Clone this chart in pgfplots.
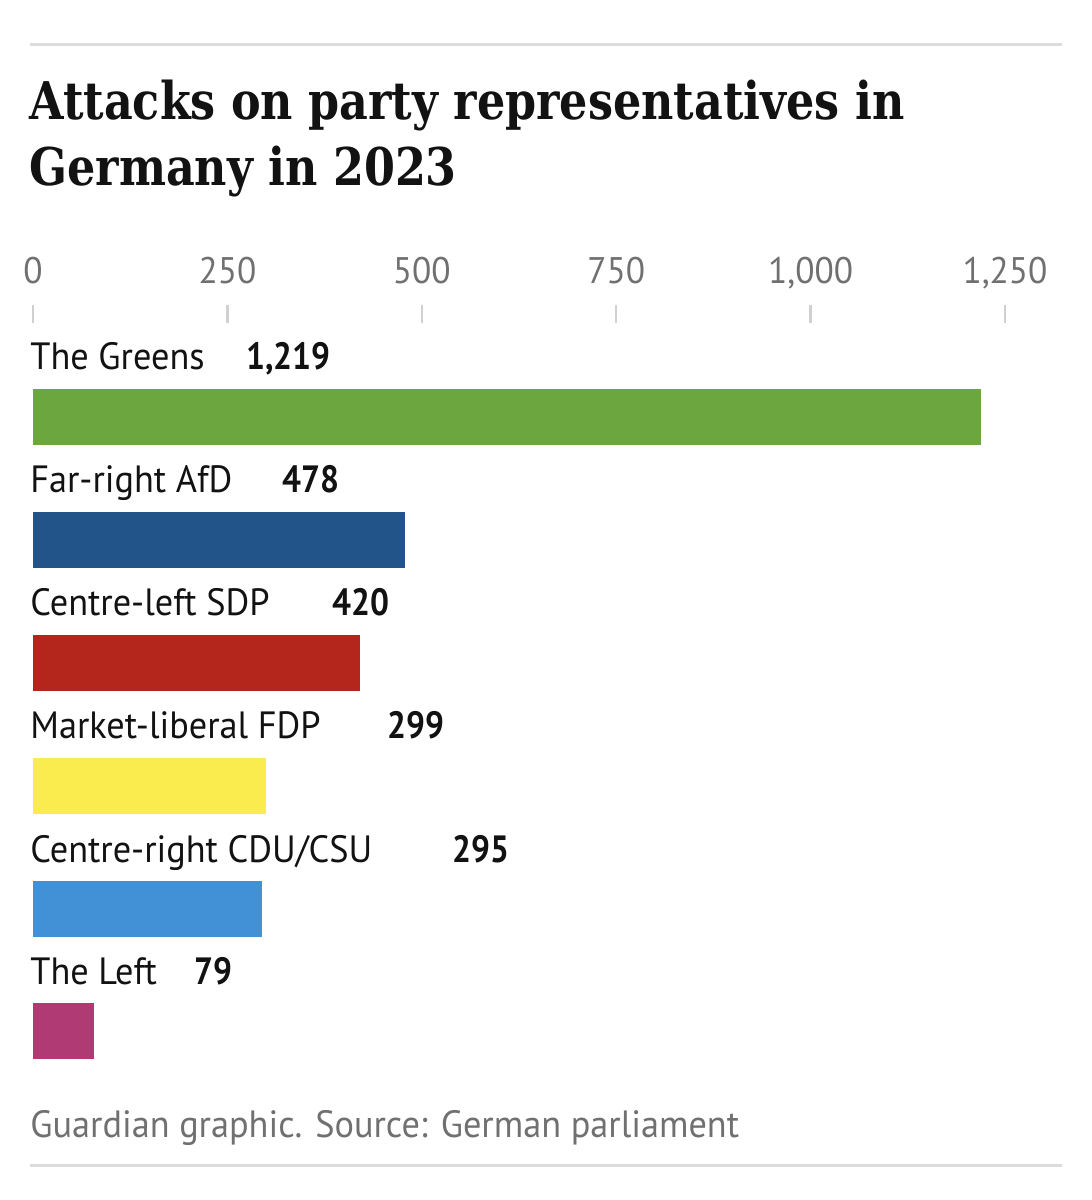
\documentclass[border=0pt]{standalone}
\usepackage{pgfplots}
\pgfplotsset{compat=1.18}
\usepackage{fontspec}
\setmainfont{PT Sans}[FakeStretch=0.955]
\newfontfamily\valfont{PT Sans}[FakeStretch=0.88]
\newfontfamily\titlefont{DejaVu Serif Condensed}[FakeStretch=0.95]
\definecolor{cGreen}{HTML}{6BA73E}
\definecolor{cAfD}{HTML}{22548A}
\definecolor{cSDP}{HTML}{B4251C}
\definecolor{cFDP}{HTML}{FAEB4E}
\definecolor{cCDU}{HTML}{4291D6}
\definecolor{cLeft}{HTML}{B03A74}
\definecolor{tickc}{HTML}{D0D0D0}
\definecolor{labc}{HTML}{707070}
\definecolor{rulec}{HTML}{DCDCDC}
\definecolor{txt}{HTML}{121212}
\begin{document}
\begin{tikzpicture}
\begin{axis}[
  at={(0,0)}, anchor=south west,
  scale only axis, width=486pt, height=380pt,
  xmin=0, xmax=1250, ymin=-1065, ymax=-305,
  axis y line=none, axis x line*=top,
  x axis line style={draw=none},
  xtick={0,250,500,750,1000,1250},
  ytick=\empty,
  tick align=inside,
  major tick length=9pt,
  xtick style={draw=tickc, line width=1.2pt},
  xticklabel style={font=\fontsize{18.5}{20}\selectfont, text=labc, anchor=base, yshift=10.5pt},
  /pgf/number format/assume math mode=true,
  /pgf/number format/1000 sep={,},
  clip=false,
]
\addplot[xbar, bar shift=0pt, bar width=56, fill=cGreen, draw=none] coordinates {(1219,-417)};
\addplot[xbar, bar shift=0pt, bar width=56, fill=cAfD, draw=none] coordinates {(478,-540)};
\addplot[xbar, bar shift=0pt, bar width=56, fill=cSDP, draw=none] coordinates {(420,-663)};
\addplot[xbar, bar shift=0pt, bar width=56, fill=cFDP, draw=none] coordinates {(299,-786)};
\addplot[xbar, bar shift=0pt, bar width=56, fill=cCDU, draw=none] coordinates {(295,-909)};
\addplot[xbar, bar shift=0pt, bar width=56, fill=cLeft, draw=none] coordinates {(79,-1031.5)};
\end{axis}
\begin{scope}[shift={(-16.5pt,532.5pt)}, x=0.5pt, y=-0.5pt]
\path (0,0) rectangle (1092,1200);
\draw[rulec, line width=1.5pt] (30,45) -- (1062,45);
\draw[rulec, line width=1.5pt] (30,1165) -- (1062,1165);
\node[anchor=base west, inner sep=0, text=txt, font=\titlefont\bfseries\fontsize{26}{30}\selectfont] at (29,120) {Attacks on party representatives in};
\node[anchor=base west, inner sep=0, text=txt, font=\titlefont\bfseries\fontsize{26}{30}\selectfont] at (29,186) {Germany in 2023};
\tikzset{lab/.style={anchor=base west, inner sep=0, text=txt, font=\fontsize{19}{21}\selectfont},
         val/.style={anchor=base west, inner sep=0, text=txt, font=\valfont\bfseries\fontsize{19}{21}\selectfont}}
\node[lab] at (30,370) {The Greens};       \node[val] at (246,370) {1,219};
\node[lab] at (30,493) {Far-right AfD};    \node[val] at (282,493) {478};
\node[lab] at (30,616) {Centre-left SDP};  \node[val] at (332,616) {420};
\node[lab] at (30,739) {Market-liberal FDP}; \node[val] at (387,739) {299};
\node[lab] at (30,862) {Centre-right CDU/CSU}; \node[val] at (452,862) {295};
\node[lab] at (30,984) {The Left};         \node[val] at (194,984) {79};
\node[anchor=base west, inner sep=0, text=labc, font=\fontsize{19}{21}\selectfont] at (30,1137) {Guardian graphic. Source: German parliament};
\end{scope}
\end{tikzpicture}
\end{document}
